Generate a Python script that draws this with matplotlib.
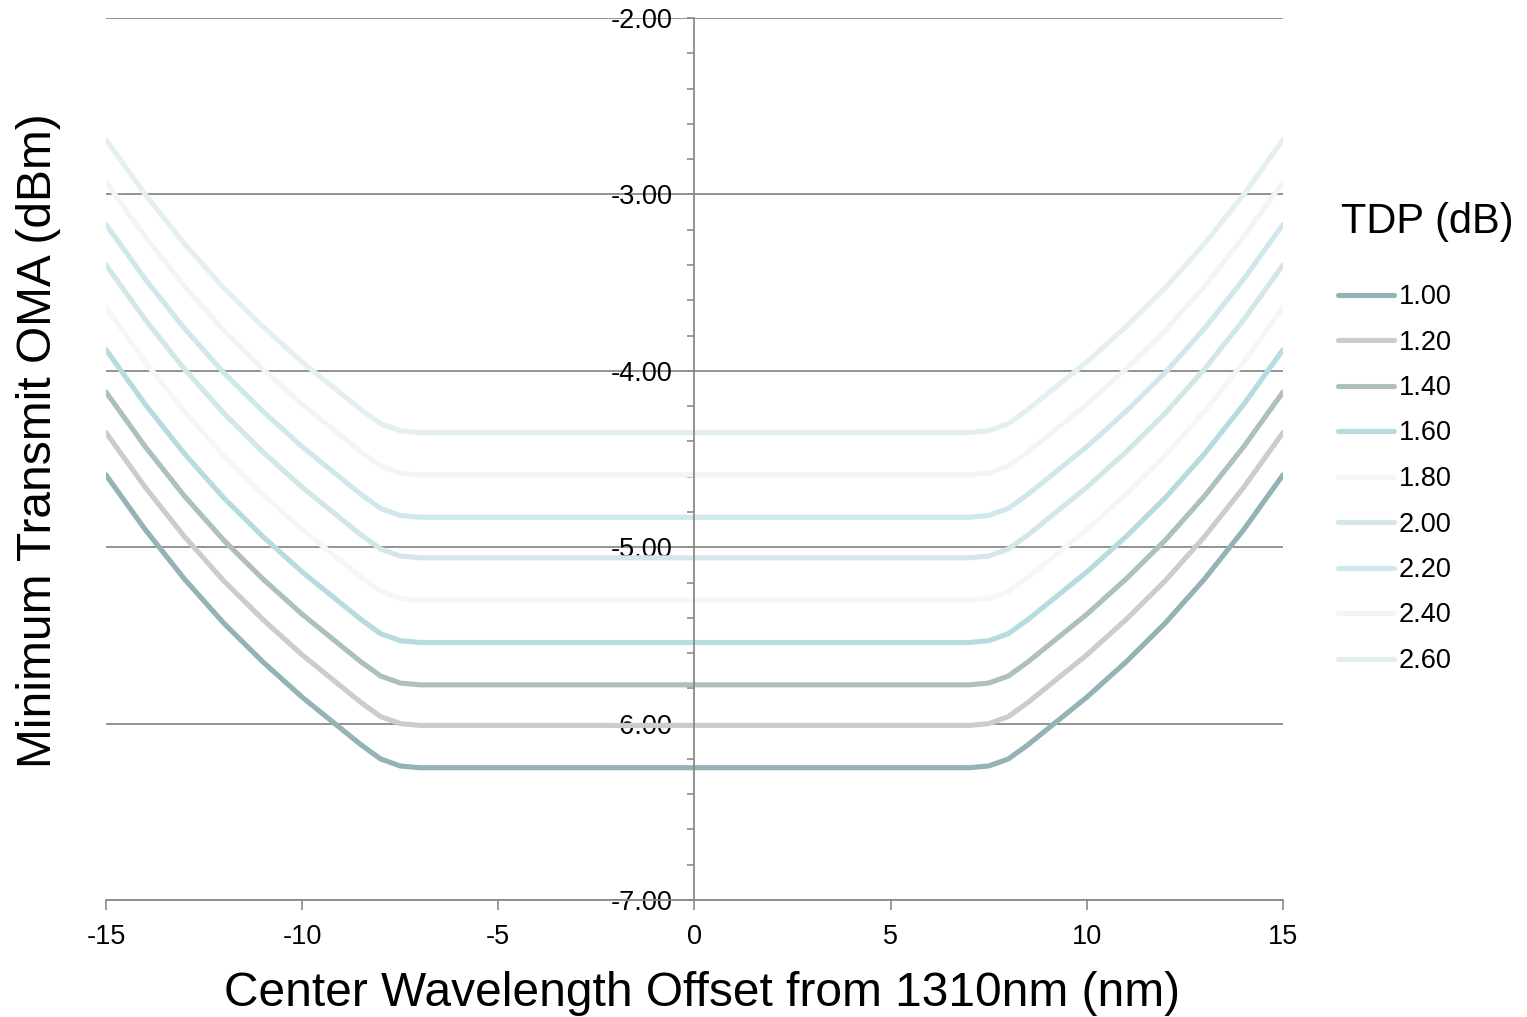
"""Minimum Transmit OMA vs center wavelength offset, one curve per TDP."""

import matplotlib

matplotlib.use("Agg")

import matplotlib.pyplot as plt
from matplotlib.lines import Line2D
from matplotlib.ticker import FormatStrFormatter, MultipleLocator
import numpy as np

plt.rcParams["font.family"] = ["Liberation Sans", "DejaVu Sans"]
plt.rcParams["axes.unicode_minus"] = False

# x 点：弯折处多取半 nm 的点，中间平坦段只取端点和中心
WAVELENGTH_OFFSET_NM = [-15, -14, -13, -12, -11, -10, -9, -8.5, -8, -7.5, -7, 0,
                        7, 7.5, 8, 8.5, 9, 10, 11, 12, 13, 14, 15]

TDP_LABELS = ["1.00", "1.20", "1.40", "1.60", "1.80", "2.00", "2.20", "2.40", "2.60"]

OMA_TDP_100 = [-4.59, -4.90, -5.18, -5.43, -5.65, -5.85, -6.03, -6.12, -6.20, -6.24, -6.25, -6.25,
               -6.25, -6.24, -6.20, -6.12, -6.03, -5.85, -5.65, -5.43, -5.18, -4.90, -4.59]
OMA_TDP_120 = [-4.35, -4.66, -4.94, -5.19, -5.41, -5.61, -5.79, -5.88, -5.96, -6.00, -6.01, -6.01,
               -6.01, -6.00, -5.96, -5.88, -5.79, -5.61, -5.41, -5.19, -4.94, -4.66, -4.35]
OMA_TDP_140 = [-4.12, -4.43, -4.71, -4.96, -5.18, -5.38, -5.56, -5.65, -5.73, -5.77, -5.78, -5.78,
               -5.78, -5.77, -5.73, -5.65, -5.56, -5.38, -5.18, -4.96, -4.71, -4.43, -4.12]
OMA_TDP_160 = [-3.88, -4.19, -4.47, -4.72, -4.94, -5.14, -5.32, -5.41, -5.49, -5.53, -5.54, -5.54,
               -5.54, -5.53, -5.49, -5.41, -5.32, -5.14, -4.94, -4.72, -4.47, -4.19, -3.88]
OMA_TDP_180 = [-3.64, -3.95, -4.23, -4.48, -4.70, -4.90, -5.08, -5.17, -5.25, -5.29, -5.30, -5.30,
               -5.30, -5.29, -5.25, -5.17, -5.08, -4.90, -4.70, -4.48, -4.23, -3.95, -3.64]
OMA_TDP_200 = [-3.40, -3.71, -3.99, -4.24, -4.46, -4.66, -4.84, -4.93, -5.01, -5.05, -5.06, -5.06,
               -5.06, -5.05, -5.01, -4.93, -4.84, -4.66, -4.46, -4.24, -3.99, -3.71, -3.40]
OMA_TDP_220 = [-3.17, -3.48, -3.76, -4.01, -4.23, -4.43, -4.61, -4.70, -4.78, -4.82, -4.83, -4.83,
               -4.83, -4.82, -4.78, -4.70, -4.61, -4.43, -4.23, -4.01, -3.76, -3.48, -3.17]
OMA_TDP_240 = [-2.93, -3.24, -3.52, -3.77, -3.99, -4.19, -4.37, -4.46, -4.54, -4.58, -4.59, -4.59,
               -4.59, -4.58, -4.54, -4.46, -4.37, -4.19, -3.99, -3.77, -3.52, -3.24, -2.93]
OMA_TDP_260 = [-2.69, -3.00, -3.28, -3.53, -3.75, -3.95, -4.13, -4.22, -4.30, -4.34, -4.35, -4.35,
               -4.35, -4.34, -4.30, -4.22, -4.13, -3.95, -3.75, -3.53, -3.28, -3.00, -2.69]

ALL_SERIES = [OMA_TDP_100, OMA_TDP_120, OMA_TDP_140, OMA_TDP_160, OMA_TDP_180,
              OMA_TDP_200, OMA_TDP_220, OMA_TDP_240, OMA_TDP_260]

SERIES_COLORS = ["#93b3b7", "#cccccc", "#adc0bf", "#b6dce0", "#f6f6f6",
                 "#d3e6e8", "#d0e8eb", "#f4f4f4", "#e3eff1"]

AXIS_COLOR = "#8a8a8a"
LINE_WIDTH = 3.7
TICK_FONT = 19.5
LABEL_FONT = 34.5


def main() -> None:
    fig = plt.figure(figsize=(15.27, 10.17), dpi=100, facecolor="white")
    ax = fig.add_axes((0.0694, 0.115, 0.7708, 0.8673))

    for values, color, label in zip(ALL_SERIES, SERIES_COLORS, TDP_LABELS):
        ax.plot(WAVELENGTH_OFFSET_NM, values, color=color, linewidth=LINE_WIDTH,
                solid_capstyle="round", solid_joinstyle="round", label=label, zorder=2)

    ax.set_xlim(-15, 15)
    ax.set_ylim(-7, -2)
    ax.set_xticks(np.arange(-15, 16, 5))
    ax.set_yticks(np.arange(-7, -1.5, 1))
    ax.yaxis.set_major_formatter(FormatStrFormatter("%.2f"))
    ax.yaxis.set_minor_locator(MultipleLocator(0.2))

    # y 轴放在 x=0 处，刻度标签贴在中轴左侧
    ax.spines["left"].set_position(("data", 0))
    for side in ("left", "bottom"):
        ax.spines[side].set_color(AXIS_COLOR)
        ax.spines[side].set_linewidth(1.3)
        ax.spines[side].set_zorder(3)
    ax.spines["top"].set_visible(False)
    ax.spines["right"].set_visible(False)

    ax.tick_params(axis="y", which="both", direction="out", length=5, width=1.2,
                   color=AXIS_COLOR, labelsize=TICK_FONT, pad=11)
    ax.tick_params(axis="x", direction="out", length=7, width=1.2,
                   color=AXIS_COLOR, labelsize=TICK_FONT, pad=10)
    ax.yaxis.grid(True, which="major", color=AXIS_COLOR, linewidth=1.3)
    ax.set_axisbelow(True)

    fig.text(0.0255, 0.567, "Minimum Transmit OMA (dBm)", rotation=90,
             ha="center", va="center", fontsize=LABEL_FONT)
    fig.text(0.46, 0.0108, "Center Wavelength Offset from 1310nm (nm)",
             ha="center", va="baseline", fontsize=LABEL_FONT)

    fig.text(1341 / 1527, 1 - 233 / 1017, "TDP (dB)", ha="left", va="baseline",
             fontsize=30)
    handles = [Line2D([], [], color=c, linewidth=LINE_WIDTH, solid_capstyle="round")
               for c in SERIES_COLORS]
    ax.legend(handles, TDP_LABELS, loc="upper left",
              bbox_to_anchor=(1338 / 1527, 1 - 284 / 1017),
              bbox_transform=fig.transFigure, frameon=False, fontsize=TICK_FONT,
              borderpad=0, borderaxespad=0, handlelength=2.05, handletextpad=0.2,
              labelspacing=0.72)

    fig.savefig("out.png", dpi=100, facecolor="white")
    plt.close(fig)


if __name__ == "__main__":
    main()
